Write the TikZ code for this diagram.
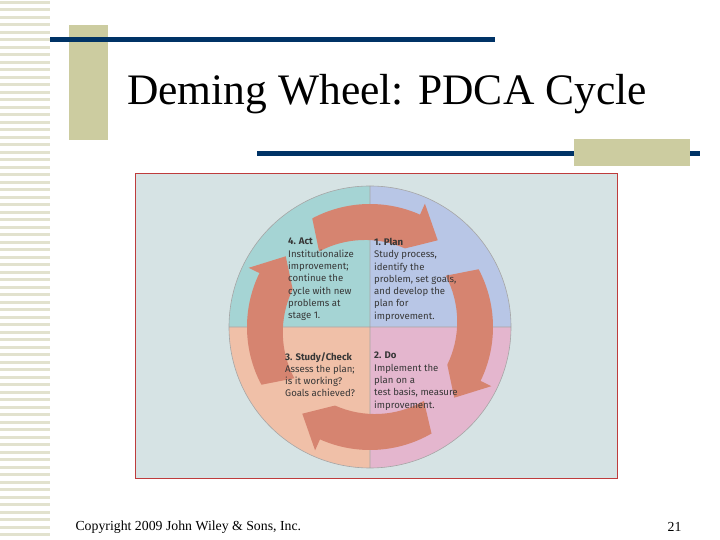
\documentclass[tikz,border=0pt]{standalone}
\usepackage{fontspec}
\setmainfont{Liberation Serif}
\newfontfamily\sansf{Fira Sans}
\definecolor{tan}{RGB}{204,204,160}
\definecolor{stripe}{RGB}{226,226,206}
\definecolor{navy}{RGB}{0,51,102}
\definecolor{panel}{RGB}{214,227,228}
\definecolor{qa}{RGB}{165,212,212}
\definecolor{qp}{RGB}{184,198,230}
\definecolor{qs}{RGB}{240,192,168}
\definecolor{qd}{RGB}{228,182,206}
\definecolor{arr}{RGB}{214,132,112}
\definecolor{txt}{RGB}{55,55,55}
\tikzset{qtext/.style={anchor=north west,align=left,font=\sansf\fontsize{9.6}{12.3}\selectfont,text=txt,inner sep=0pt}}
\newcommand{\cwarrow}[2]{%
\fill[arr,shift={(370,213)}] (#1:123) arc[start angle=#1,end angle=#2+14,radius=123] -- (#2+14:135) -- (#2:110) -- (#2+14:86) arc[start angle=#2+14,end angle=#1,radius=98] -- cycle;}
\begin{document}
\begin{tikzpicture}[x=1pt,y=1pt]
\useasboundingbox (0,0) rectangle (720,540);
\fill[white] (0,0) rectangle (720,540);
\foreach \y in {4,11,19,26,34,41,49,56,64,71,79,86,94,101,109,116,124,131,139,146,154,161,169,176,184,191,199,206,214,221,229,236,244,251,259,266,274,281,289,296,304,311,319,326,334,341,349,356,364,371,379,386,394,401,409,416,424,431,439,446,454,461,469,476,484,491,499,506,514,521,529,536}
  \fill[stripe] (0,\y) rectangle (50,\y+3);
\fill[tan] (69,400) rectangle (108,515);
\fill[navy] (50,498) rectangle (495,503);
\node[font=\fontsize{43.5}{45}\selectfont] (title) at (387,446) {Deming Wheel: PDCA Cycle};
\fill[navy] (257,384) rectangle (700,389);
\fill[tan] (574,374) rectangle (690,401);
\draw[fill=panel,draw={rgb,255:red,190;green,60;blue,60},line width=1pt] (135,61) rectangle (617,366);
\coordinate (c) at (370,213);
\fill[qa] (c) -- (229,213) arc[start angle=180,end angle=90,radius=141] -- cycle;
\fill[qp] (c) -- (370,354) arc[start angle=90,end angle=0,radius=141] -- cycle;
\fill[qd] (c) -- (511,213) arc[start angle=0,end angle=-90,radius=141] -- cycle;
\fill[qs] (c) -- (370,72) arc[start angle=-90,end angle=-180,radius=141] -- cycle;
\draw[gray!70,line width=0.6pt] (c) circle[radius=141] (229,213) -- (511,213) (370,72) -- (370,354);
\cwarrow{118}{52}
\cwarrow{28}{-40}
\cwarrow{-60}{-128}
\cwarrow{-152}{-220}
\node[qtext] (act) at (288,302) {\textbf{4. Act}\\Institutionalize\\improvement;\\continue the\\cycle with new\\problems at\\stage 1.};
\node[qtext] (plan) at (374,302) {\textbf{1. Plan}\\Study process,\\identify the\\problem, set goals,\\and develop the\\plan for\\improvement.};
\node[qtext] (study) at (285,188) {\textbf{3. Study/Check}\\Assess the plan;\\is it working?\\Goals achieved?};
\node[qtext] (do) at (374,188) {\textbf{2. Do}\\Implement the\\plan on a\\test basis, measure\\improvement.};
\node[anchor=west,font=\fontsize{13.8}{15}\selectfont] (copy) at (72,13) {Copyright 2009 John Wiley \& Sons, Inc.};
\node[anchor=east,font=\fontsize{13.8}{15}\selectfont] (num) at (685,13) {21};
\end{tikzpicture}
\end{document}
